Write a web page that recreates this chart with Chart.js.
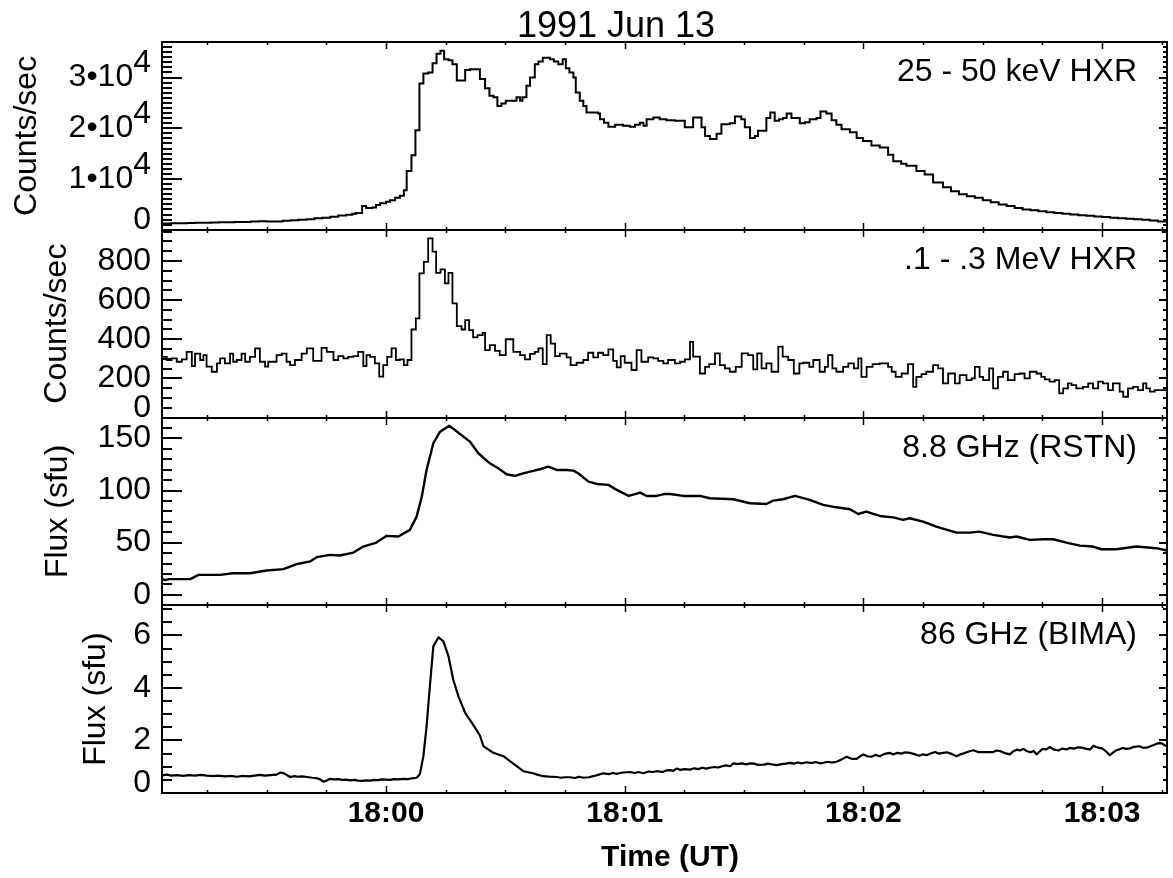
<!DOCTYPE html>
<html>
<head>
<meta charset="utf-8">
<title>1991 Jun 13</title>
<script src="https://cdn.jsdelivr.net/npm/chart.js@4.4.1/dist/chart.umd.min.js"></script>
<style>
    html, body { margin: 0; padding: 0; background: #fff; }
    #wrap { width: 1173px; height: 878px; }
</style>
</head>
<body>
<div id="wrap"><canvas id="flareChart" width="1173" height="878"></canvas></div>
<script>
/*-----------------------------------------------------------------------------------
    1991 Jun 13 flare - HXR and microwave light curves
    times are seconds from 18:00:00 UT
-----------------------------------------------------------------------------------*/

// 25 - 50 keV HXR (bin start, counts/sec)
const hxrLoTime = [
    -56.3, -54, -52, -50, -48, -46, -44, -42, -40, -38,
    -36, -34, -32, -30, -28, -26, -24, -22, -20, -18,
    -16, -14, -12, -10, -8.5, -7.5, -6, -5, -3.5, -2.5,
    -1.5, 0, 1, 2.3, 3.5, 4.5, 5.2, 6.4, 7.4, 8.4,
    9.4, 10.6, 11.7, 12.7, 13.7, 14.6, 15.7, 16.7, 17.8, 19.9,
    21.1, 23.6, 24.9, 26, 27, 28, 29, 30.1, 32, 32.8,
    33.7, 34.3, 35.3, 36.2, 37.4, 38.3, 39.4, 41.2, 42.2, 43.3,
    44.4, 45.2, 46.1, 47.1, 47.7, 48.7, 49.6, 50.4, 53.3, 53.8,
    54.8, 55.9, 57.6, 59.6, 61.3, 62.6, 63.8, 64.7, 65.5, 67.2,
    68.8, 70.5, 72.6, 75.1, 77.2, 79.3, 80.2, 81.4, 83.1, 84.3,
    86.4, 87.7, 89.3, 90.2, 91.5, 92.7, 93.5, 95.6, 96.6, 97.7,
    98.8, 99.8, 100.7, 101.9, 104, 105.3, 106.5, 108.2, 109.2, 110.7,
    112, 113.2, 114.5, 116.6, 118.3, 119.9, 122, 124.1, 126.2, 127.5,
    129.5, 130.8, 133.3, 135.4, 137.5, 140, 142, 144, 146, 148,
    150, 152, 154, 156, 158, 160, 162, 164, 166, 168,
    170, 172, 174, 176, 178, 180, 182, 184, 186, 188,
    190, 192, 194, 196.3
];
const hxrLoCounts = [
    1250, 1270, 1300, 1330, 1380, 1400, 1450, 1460, 1480, 1520,
    1550, 1620, 1680, 1620, 1650, 1750, 1850, 1950, 2050, 2250,
    2350, 2550, 2800, 2950, 3150, 3300, 4700, 4300, 4400, 4900,
    5200, 5500, 5800, 6300, 6700, 7800, 11600, 14700, 19600, 28800,
    30800, 31000, 32800, 34700, 35300, 33600, 33400, 32600, 29400, 31500,
    31650, 29700, 27900, 26400, 26100, 24400, 24900, 25400, 25400, 26100,
    25400, 26100, 28400, 30000, 32600, 33150, 33900, 33600, 33150, 32600,
    33600, 31850, 31000, 30000, 27050, 25400, 24400, 23100, 22900, 21800,
    21100, 20300, 20700, 20500, 20300, 20700, 21100, 20500, 21800, 22100,
    21800, 21600, 21500, 20200, 22100, 20200, 18500, 17900, 18900, 20800,
    21000, 22300, 21800, 20200, 18100, 18500, 19500, 22000, 23100, 21500,
    21800, 22000, 22900, 22000, 21000, 21200, 21800, 22000, 23300, 22900,
    21600, 20700, 19800, 19200, 18100, 17500, 16600, 16200, 14800, 13500,
    13000, 12600, 11600, 10900, 9300, 8400, 7600, 7000, 6600, 6300,
    5800, 5400, 5000, 4700, 4300, 4000, 3850, 3650, 3450, 3300,
    3150, 3000, 2850, 2750, 2600, 2500, 2350, 2250, 2150, 2050,
    1950, 1800, 1650, 1450
];

// .1 - .3 MeV HXR (bin start, counts/sec)
const hxrHiTime = [-56.3, -55.1, -53.9, -52.6, -51.3, -50.1, -48.8, -48, -46.7, -45.9, -45.1, -43.8, -42.5, -41.7, -40.5, -39.2, -38.4, -37.5, -36.3, -35.4, -34.2, -32.9, -31.7, -30.4, -29.6, -27.5, -26.2, -25, -24.1, -22.9, -21.2, -19.9, -18.3, -16.2, -14.9, -13.2, -12, -10.7, -9.5, -8.2, -7, -5.7, -4.9, -4, -2.8, -1.7, -0.7, 0.3, 1.4, 2.5, 3.5, 4.5, 5.4, 6.4, 7.5, 8.4, 9.5, 10.6, 11.7, 12.6, 13.7, 14.8, 15.7, 16.7, 17.8, 19, 19.9, 20.9, 21.9, 23, 24.3, 24.9, 26.1, 27.4, 28.6, 30.1, 32, 33.7, 34.9, 36.2, 37.4, 38.3, 39.4, 40.4, 41.4, 42.5, 43.7, 45.4, 46.4, 47.9, 49.6, 50.8, 52.1, 53.3, 54.6, 55.9, 57.1, 58, 59, 60, 61.7, 63, 64.2, 65.9, 67.2, 68.4, 69.7, 70.9, 72.6, 73.9, 75.1, 76.4, 77.2, 78.9, 80.2, 81.2, 82.7, 83.9, 85.2, 86.4, 87.9, 89.4, 91, 92.3, 93.3, 94.4, 95.6, 96.9, 98.6, 99.7, 101.1, 102.5, 103.9, 104.9, 106.4, 107.4, 109, 110.3, 111.1, 112.2, 113.2, 114.9, 116.2, 117.6, 118.7, 119.5, 120.8, 122.3, 124.1, 126.2, 127.1, 128.1, 129.6, 131.2, 132.5, 133.3, 134.6, 135.8, 137.5, 138.8, 140, 141.3, 143, 144.2, 145.9, 147.2, 148, 149.2, 150.1, 151.6, 152.6, 153.8, 155.1, 156.3, 158, 159.3, 160.5, 161.8, 163.5, 164.7, 165.6, 166.8, 168.1, 169.2, 170.2, 171.4, 172.3, 173.5, 175.2, 176.5, 177.7, 179, 180.2, 181.5, 182.7, 184.4, 185.3, 186.5, 187.8, 189, 190.3, 191.1, 192, 193.2, 194.5, 196.3];
const hxrHiCounts = [310, 294, 302, 285, 297, 336, 263, 327, 294, 319, 260, 234, 277, 302, 277, 327, 285, 294, 327, 285, 310, 353, 285, 260, 285, 319, 327, 285, 268, 294, 327, 353, 290, 356, 336, 294, 314, 302, 310, 314, 336, 263, 319, 310, 277, 209, 268, 310, 353, 294, 297, 268, 294, 450, 507, 737, 796, 916, 848, 740, 757, 686, 740, 584, 467, 450, 498, 447, 410, 421, 433, 344, 370, 341, 319, 400, 336, 319, 297, 325, 336, 353, 273, 421, 378, 314, 327, 307, 268, 280, 294, 331, 307, 331, 319, 348, 290, 256, 314, 280, 243, 344, 285, 307, 302, 290, 277, 294, 277, 285, 297, 387, 311, 225, 259, 273, 328, 268, 251, 234, 259, 328, 319, 246, 328, 251, 277, 234, 362, 311, 294, 225, 277, 280, 259, 294, 234, 259, 319, 251, 234, 259, 277, 251, 302, 208, 259, 273, 277, 259, 234, 208, 225, 273, 157, 208, 222, 234, 268, 251, 174, 225, 174, 217, 191, 200, 259, 208, 191, 251, 149, 208, 234, 191, 222, 225, 200, 234, 225, 208, 195, 183, 191, 123, 149, 174, 166, 149, 157, 174, 149, 183, 174, 140, 174, 132, 106, 149, 157, 140, 174, 149, 132, 140, 140, 140];

// 8.8 GHz (RSTN) flux, sfu
const rstnTime = [-56.3, -55.5, -54.5, -49.2, -47.1, -41.7, -38.4, -34.2, -30, -25.8, -24.1, -22.5, -19.1, -17.4, -14.1, -11.6, -8.2, -5.7, -2.4, 0.1, 3.1, 6, 7.7, 9, 10.2, 11.9, 13.6, 15.9, 18.6, 21.1, 23.2, 26.1, 28.2, 30.3, 32.4, 34.5, 37, 38.7, 40.8, 42.9, 45.4, 47.1, 48.3, 50.9, 53, 55.9, 58, 61, 63.9, 65.5, 68, 70.1, 71.4, 74.7, 78.9, 81.4, 87.3, 91.5, 95.6, 97.3, 99.8, 102.8, 106.5, 109.9, 113.2, 116.6, 118.7, 120.7, 124.1, 127.5, 130, 131.6, 135, 138.3, 143.4, 146.7, 149.2, 152.6, 156.8, 158.5, 161.8, 165.2, 167.7, 171, 174.4, 177.7, 179.8, 183.6, 188.6, 193.6, 196.3];
const rstnFlux = [15, 14.2, 15, 15, 19.1, 19.1, 20.7, 20.7, 23.3, 24.6, 27.1, 29.4, 31.9, 36.1, 38.3, 37.7, 40.5, 46.3, 50.1, 56.5, 55.9, 62.3, 75, 94.2, 119.7, 145.3, 156.4, 162.2, 154.2, 146.9, 135.7, 126.1, 121.3, 115.6, 114, 116.5, 118.8, 120.4, 122.9, 119.7, 119.7, 119.1, 116.5, 108.5, 106.3, 105.4, 100.6, 94.8, 98, 94.8, 94.8, 96.7, 96.7, 94.8, 94.8, 92.6, 91.6, 87.8, 87.1, 90.3, 91.6, 94.8, 91, 86.2, 83.9, 82, 77.5, 79.7, 75.6, 74.3, 71.8, 73.4, 70.2, 65.4, 59.6, 59.6, 60.6, 57.5, 54.9, 55.9, 52.7, 53.3, 53.3, 50.1, 47.2, 46.3, 43.7, 43.7, 46.3, 44.7, 42.5];

// 86 GHz (BIMA) flux, sfu
const bimaTime = [
    -56.3, -55, -54, -52.5, -51, -49.5, -48, -46.5, -45, -43.5,
    -42, -40.5, -39, -37.5, -36, -34.5, -33, -31.7, -30.5, -29,
    -27.5, -26.5, -25.5, -24.1, -23, -22, -21, -19.9, -18.5, -17.5,
    -16.6, -15.7, -14.8, -14.1, -13, -12, -11, -10, -9, -8,
    -7, -6, -5, -4, -3, -2, -1, 0, 1, 2,
    3, 4.4, 5.5, 6.5, 7.7, 8.5, 9.4, 10.2, 11.1, 11.9,
    13.2, 14.4, 15.7, 16.9, 18.2, 19.9, 21.6, 23.6, 24.5, 27,
    29.5, 32, 34.5, 36, 37, 38, 39.5, 41, 42.9, 44,
    45, 46.2, 47.5, 48.5, 49.6, 51, 52.1, 53.5, 54.6, 56,
    57, 58, 59.5, 61.3, 62.5, 63.5, 64.7, 66, 67, 68,
    69.5, 70.5, 71.4, 72.2, 73, 74, 75, 76.4, 77.5, 78.5,
    79.5, 80.5, 81.4, 82.5, 83.5, 84.5, 85.5, 86.5, 87.3, 88.3,
    89.5, 90.5, 91.5, 92.5, 93.5, 95, 96, 97, 98.2, 99.5,
    100.5, 101.5, 102.5, 103.5, 104.5, 105.7, 107, 108, 109, 109.9,
    111, 112, 113.2, 114.5, 115.8, 117, 118.3, 119.2, 120, 121,
    122, 123, 124.1, 125.3, 126.6, 127.5, 128.5, 129.5, 130.5, 131.7,
    132.8, 134, 135, 135.9, 137, 138, 139, 140, 141, 142.3,
    143.4, 144.3, 145, 146.5, 147.6, 148.8, 150.1, 152.6, 153.5, 154.3,
    155.5, 156.8, 157.6, 158.5, 159.3, 160.2, 161, 162, 162.8, 163.5,
    164.3, 165, 166, 166.8, 168, 169, 170, 171, 172, 173,
    174, 175.2, 176, 177, 177.8, 178.5, 179.3, 180, 181, 181.9,
    182.8, 183.5, 184.3, 185.2, 186, 187, 188, 189.4, 190.3, 191.5,
    192.5, 193.6, 194.3, 195, 195.7, 196.3
];
const bimaFlux = [
    0.67, 0.70, 0.66, 0.68, 0.65, 0.68, 0.66, 0.69, 0.66, 0.64,
    0.66, 0.63, 0.65, 0.62, 0.65, 0.63, 0.66, 0.69, 0.66, 0.68,
    0.70, 0.78, 0.74, 0.61, 0.64, 0.62, 0.63, 0.61, 0.58, 0.57,
    0.52, 0.43, 0.48, 0.54, 0.52, 0.53, 0.50, 0.51, 0.48, 0.50,
    0.47, 0.46, 0.48, 0.47, 0.50, 0.49, 0.52, 0.51, 0.50, 0.53,
    0.52, 0.54, 0.53, 0.56, 0.58, 0.71, 1.40, 2.54, 4.19, 5.59,
    5.93, 5.78, 5.21, 4.32, 3.68, 3.05, 2.67, 2.19, 1.78, 1.53,
    1.40, 1.12, 0.83, 0.78, 0.75, 0.70, 0.64, 0.62, 0.61, 0.58,
    0.60, 0.60, 0.57, 0.62, 0.58, 0.60, 0.64, 0.70, 0.75, 0.72,
    0.76, 0.73, 0.78, 0.80, 0.76, 0.80, 0.75, 0.82, 0.80, 0.83,
    0.80, 0.86, 0.87, 0.84, 0.93, 0.88, 0.91, 0.89, 0.94, 0.91,
    0.96, 0.93, 0.96, 0.99, 0.97, 1.02, 1.05, 1.02, 1.13, 1.10,
    1.13, 1.09, 1.13, 1.12, 1.07, 1.08, 1.12, 1.09, 1.06, 1.10,
    1.12, 1.15, 1.12, 1.16, 1.13, 1.17, 1.14, 1.18, 1.13, 1.15,
    1.19, 1.16, 1.19, 1.28, 1.38, 1.30, 1.30, 1.40, 1.47, 1.40,
    1.38, 1.45, 1.40, 1.49, 1.53, 1.47, 1.53, 1.50, 1.55, 1.53,
    1.48, 1.42, 1.47, 1.44, 1.51, 1.56, 1.50, 1.53, 1.55, 1.48,
    1.40, 1.47, 1.50, 1.58, 1.63, 1.56, 1.56, 1.56, 1.62, 1.60,
    1.52, 1.47, 1.58, 1.65, 1.62, 1.68, 1.60, 1.55, 1.60, 1.47,
    1.58, 1.68, 1.66, 1.75, 1.65, 1.62, 1.69, 1.66, 1.72, 1.69,
    1.74, 1.72, 1.68, 1.66, 1.80, 1.75, 1.72, 1.70, 1.58, 1.44,
    1.55, 1.62, 1.66, 1.72, 1.68, 1.70, 1.76, 1.78, 1.72, 1.74,
    1.80, 1.87, 1.90, 1.89, 1.82, 1.78
];

// axis text
const chartTitle = '1991 Jun 13';
const bandNames = ['25 - 50 keV HXR', '.1 - .3 MeV HXR', '8.8 GHz (RSTN)', '86 GHz (BIMA)'];
const axisTitles = ['Counts/sec', 'Counts/sec', 'Flux (sfu)', 'Flux (sfu)'];
const timeTicks = [0, 60, 120, 180];
const timeLabels = ['18:00', '18:01', '18:02', '18:03'];
const timeTitle = 'Time (UT)';

// y tick values and labels, one list per panel ("^" marks an exponent)
const hxrLoTicks = [0, 10000, 20000, 30000];
const hxrLoTickLabels = ['0', '1\u202210^4', '2\u202210^4', '3\u202210^4'];
const hxrHiTicks = [0, 200, 400, 600, 800];
const hxrHiTickLabels = ['0', '200', '400', '600', '800'];
const rstnTicks = [0, 50, 100, 150];
const rstnTickLabels = ['0', '50', '100', '150'];
const bimaTicks = [0, 2, 4, 6];
const bimaTickLabels = ['0', '2', '4', '6'];

// Layout / style
const FONT = '"Liberation Sans", Arial, Helvetica, sans-serif';
const T_MIN = -56.3, T_MAX = 196.3;

const panels = [
    { axis: 'y1', min: 0, max: 37000, ticks: hxrLoTicks, labels: hxrLoTickLabels, minorStep: 1000, titleX: 27 },
    { axis: 'y2', min: 0, max: 960, ticks: hxrHiTicks, labels: hxrHiTickLabels, minorStep: 50, titleX: 57 },
    { axis: 'y3', min: -10, max: 170, ticks: rstnTicks, labels: rstnTickLabels, minorStep: 10, titleX: 58 },
    { axis: 'y4', min: 0, max: 7.15, ticks: bimaTicks, labels: bimaTickLabels, minorStep: 0.5, titleX: 96 }
];

function pairs(times, values) {
    return times.map((t, i) => ({ x: t, y: values[i] }));
}

function isMajor(list, v) {
    return list.some(m => Math.abs(m - v) < 1e-6);
}

// tick label with optional exponent (e.g. 3•10^4)
function drawTickLabel(ctx, text, x, y) {
    const parts = text.split('^');
    if (parts.length === 1) {
        ctx.fillText(text, x, y);
        return;
    }
    const supW = ctx.measureText(parts[1]).width;
    ctx.fillText(parts[1], x, y - 14);
    ctx.fillText(parts[0], x - supW, y);
}

// frame, inward ticks, labels and titles for every panel
const panelDecor = {
    id: 'panelDecor',
    afterDraw(chart) {
        const ctx = chart.ctx;
        const area = chart.chartArea;
        const xs = chart.scales.x;
        const left = Math.round(area.left), right = Math.round(area.right);

        ctx.save();
        ctx.strokeStyle = '#000';
        ctx.fillStyle = '#000';
        ctx.lineCap = 'butt';

        panels.forEach((p, i) => {
            const ys = chart.scales[p.axis];
            const top = Math.round(ys.top), bottom = Math.round(ys.bottom);

            // y ticks, left and right
            ctx.lineWidth = 2;
            ctx.beginPath();
            for (let v = Math.ceil(p.min / p.minorStep) * p.minorStep; v <= p.max + 1e-9; v += p.minorStep) {
                const py = Math.round(ys.getPixelForValue(v));
                if (py <= top + 1 || py >= bottom - 1) continue;
                const major = isMajor(p.ticks, v);
                ctx.moveTo(left, py);
                ctx.lineTo(left + (major ? 20 : 10), py);
                ctx.moveTo(right, py);
                ctx.lineTo(right - (major ? 8 : 4), py);
            }
            ctx.stroke();

            // x ticks, top and bottom of the panel
            ctx.lineWidth = 1.5;
            ctx.beginPath();
            for (let t = -45; t <= T_MAX; t += 15) {
                const px = Math.round(xs.getPixelForValue(t)) + 0.5;
                const len = isMajor(timeTicks, t) ? 7 : 3;
                ctx.moveTo(px, top);
                ctx.lineTo(px, top + len);
                ctx.moveTo(px, bottom);
                ctx.lineTo(px, bottom - len);
            }
            ctx.stroke();

            // frame
            ctx.lineWidth = 2;
            ctx.strokeRect(left, top, right - left, bottom - top);

            // y tick labels
            ctx.font = '32px ' + FONT;
            ctx.textAlign = 'right';
            ctx.textBaseline = 'middle';
            p.ticks.forEach((v, k) => {
                let py = ys.getPixelForValue(v);
                if (ys.bottom - py < 4) py -= 9.5;
                drawTickLabel(ctx, p.labels[k], left - 11, py);
            });

            // y axis title
            ctx.save();
            ctx.translate(p.titleX, (ys.top + ys.bottom) / 2);
            ctx.rotate(-Math.PI / 2);
            ctx.textAlign = 'center';
            ctx.fillText(axisTitles[i], 0, 0);
            ctx.restore();

            // band name
            ctx.textAlign = 'right';
            ctx.textBaseline = 'alphabetic';
            ctx.fillText(bandNames[i], 1137, top + 39);
        });

        // time axis labels
        ctx.font = 'bold 30px ' + FONT;
        ctx.textAlign = 'center';
        ctx.textBaseline = 'alphabetic';
        timeTicks.forEach((t, k) => {
            ctx.fillText(timeLabels[k], xs.getPixelForValue(t), 822);
        });
        ctx.fillText(timeTitle, 670, 866);

        // title
        ctx.font = '36px ' + FONT;
        ctx.fillText(chartTitle, 616, 37);

        ctx.restore();
    }
};

function lineSet(times, values, axis, stepped, width) {
    return {
        data: pairs(times, values),
        yAxisID: axis,
        stepped: stepped,
        borderColor: '#000',
        borderWidth: width,
        borderJoinStyle: stepped ? 'miter' : 'round',
        pointRadius: 0,
        tension: 0,
        fill: false
    };
}

function yAxis(p, weight) {
    return {
        type: 'linear',
        position: 'left',
        stack: 'panels',
        stackWeight: 1,
        weight: weight,
        min: p.min,
        max: p.max,
        display: false
    };
}

function initFlareChart() {
    const ctx = document.getElementById('flareChart');
    if (!ctx) return;

    new Chart(ctx, {
        type: 'line',
        data: {
            datasets: [
                lineSet(hxrLoTime, hxrLoCounts, 'y1', true, 2),
                lineSet(hxrHiTime, hxrHiCounts, 'y2', true, 1.8),
                lineSet(rstnTime, rstnFlux, 'y3', false, 2.4),
                lineSet(bimaTime, bimaFlux, 'y4', false, 2.2)
            ]
        },
        options: {
            responsive: false,
            animation: false,
            events: [],
            layout: { padding: { left: 162, right: 6, top: 42, bottom: 85 } },
            plugins: {
                legend: { display: false },
                tooltip: { enabled: false },
                title: { display: false }
            },
            scales: {
                x: { type: 'linear', min: T_MIN, max: T_MAX, display: false },
                y1: yAxis(panels[0], 4),
                y2: yAxis(panels[1], 3),
                y3: yAxis(panels[2], 2),
                y4: yAxis(panels[3], 1)
            }
        },
        plugins: [panelDecor]
    });
}

initFlareChart();
</script>
</body>
</html>
